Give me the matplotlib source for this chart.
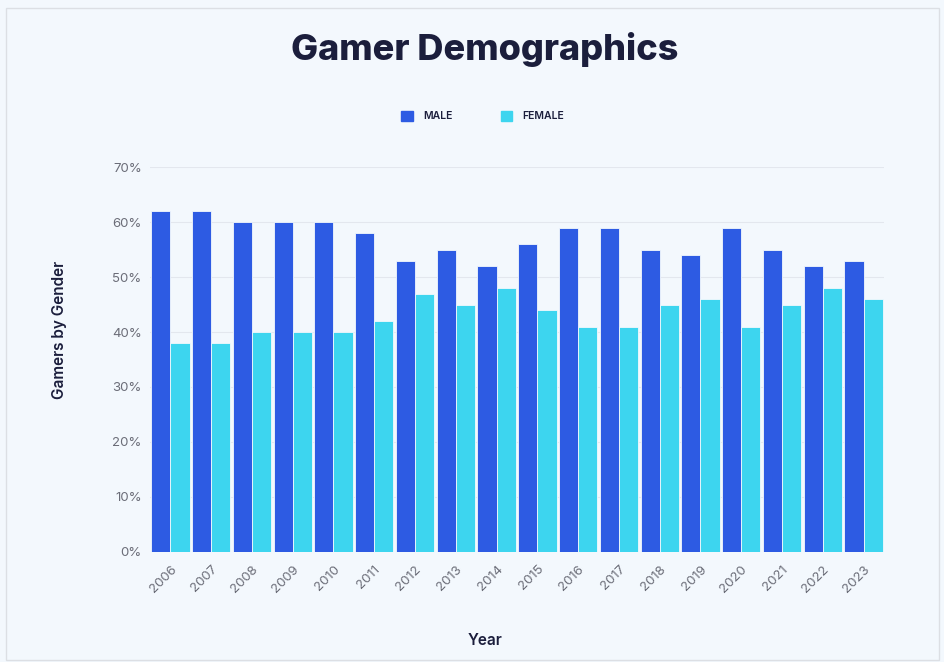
import numpy as np
import matplotlib.pyplot as plt
from matplotlib.patches import Rectangle, Patch

years = [str(y) for y in range(2006, 2024)]
male = [62, 62, 60, 60, 60, 58, 53, 55, 52, 56, 59, 59, 55, 54, 59, 55, 52, 53]
female = [38, 38, 40, 40, 40, 42, 47, 45, 48, 44, 41, 41, 45, 46, 41, 45, 48, 46]

bg = "#f3f8fd"
male_color = "#2d5be3"
female_color = "#3dd5ef"
dark = "#1b1e3c"

plt.rcParams['font.family'] = ['Inter', 'DejaVu Sans']

fig = plt.figure(figsize=(9.45, 6.62), dpi=100, facecolor=bg)
fig.patches.append(Rectangle((0.006, 0.003), 0.988, 0.985, transform=fig.transFigure,
                             fill=False, edgecolor="#dcdfe4", linewidth=1))
ax = fig.add_axes([0.1587, 0.1662, 0.7767, 0.5815])
ax.set_facecolor(bg)

x = np.arange(len(years))
w = 0.47
ax.bar(x - w / 2, male, width=w, color=male_color, edgecolor=bg, linewidth=0.6, label="MALE")
ax.bar(x + w / 2, female, width=w, color=female_color, edgecolor=bg, linewidth=0.6, label="FEMALE")

ax.set_xlim(-0.5, len(years) - 0.5)
ax.set_ylim(0, 70)
ax.set_yticks(range(0, 71, 10))
ax.set_yticklabels([f"{v}%" for v in range(0, 71, 10)])
ax.set_xticks(x)
ax.set_xticklabels(years, rotation=45, ha="right", rotation_mode="anchor")
ax.tick_params(axis="both", length=0, labelsize=9.5, colors="#6b6d78", pad=6)
ax.tick_params(axis="x", pad=8)
ax.grid(axis="y", color="#e3e7ee", linewidth=0.8)
ax.set_axisbelow(True)
for s in ax.spines.values():
    s.set_visible(False)

# labels sit off-centre in the reference
ax.set_ylabel("Gamers by Gender", fontsize=11, fontweight="semibold", color=dark)
ax.yaxis.set_label_coords(-0.113, 0.578)
ax.set_xlabel("Year", fontsize=11, fontweight="semibold", color=dark, va="center")
ax.xaxis.set_label_coords(0.456, -0.229)

fig.text(0.513, 0.925, "Gamer Demographics", ha="center", va="center",
         fontsize=26, fontweight="heavy", color=dark)

handles = [Patch(color=male_color, label="MALE"), Patch(color=female_color, label="FEMALE")]
leg = fig.legend(handles=handles, loc="center", bbox_to_anchor=(0.511, 0.825), ncol=2,
                 frameon=False, fontsize=7.5, handlelength=1.1, handleheight=1.1,
                 columnspacing=4.6, handletextpad=1.0)
for t in leg.get_texts():
    t.set_color(dark)
    t.set_fontweight("semibold")

fig.savefig("out.png", dpi=100, facecolor=bg)
